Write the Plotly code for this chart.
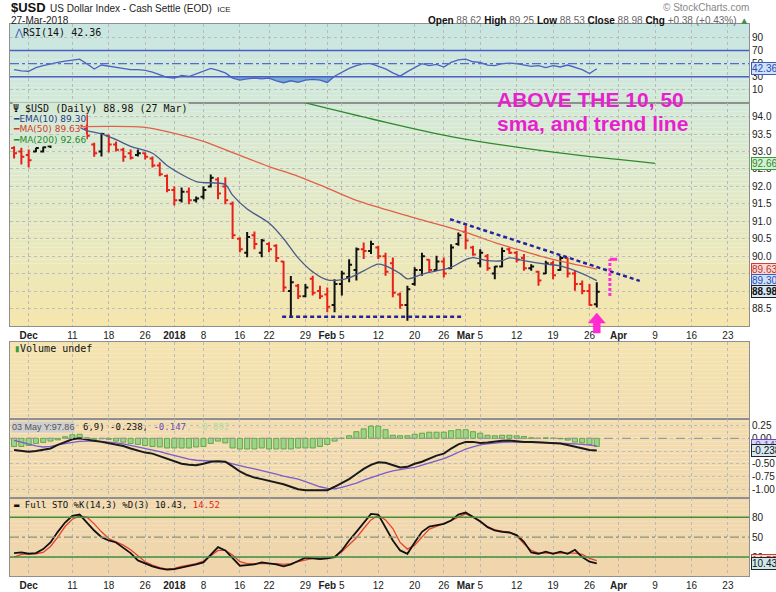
import plotly.graph_objects as go

# ---------------- data (session index: 2 = 29-Nov-2017 ... 82 = 27-Mar-2018) ----------------
bar_idx = list(range(2, 83))
opens = [93.10, 93.00, 92.90, 93.00, 93.00, 93.15, 93.45, 93.70, 93.90, 93.85,
         93.65, 93.20, 93.00, 93.45, 93.20, 93.05, 92.95, 92.90, 92.95, 92.80,
         92.60, 92.30, 91.90, 91.60, 91.85, 91.60, 91.70, 92.00, 92.20, 92.00,
         91.50, 90.50, 90.10, 90.60, 90.10, 90.35, 90.30, 89.85, 89.00, 89.15,
         88.85, 89.35, 89.00, 88.90, 88.60, 89.20, 89.40, 89.60, 90.20, 90.15,
         90.25, 90.00, 89.80, 88.90, 88.60, 89.20, 89.60, 89.90, 89.60, 89.85,
         89.65, 90.35, 90.70, 90.25, 89.80, 90.00, 89.50, 89.70, 90.20, 90.10,
         89.95, 89.65, 89.55, 89.50, 89.80, 89.60, 89.95, 89.50, 89.20, 89.00,
         88.62]
highs = [93.15, 93.11, 93.06, 93.11, 93.14, 93.50, 93.80, 93.95, 94.05, 94.00,
         94.10, 93.25, 93.54, 93.49, 93.29, 93.11, 93.06, 93.06, 92.97, 92.86,
         92.69, 92.34, 92.00, 91.97, 91.97, 91.71, 92.00, 92.34, 92.26, 92.26,
         91.57, 90.54, 90.69, 90.71, 90.49, 90.40, 90.34, 89.86, 89.43, 89.20,
         89.20, 89.44, 89.15, 89.10, 89.34, 89.58, 89.91, 90.25, 90.39, 90.44,
         90.30, 90.10, 89.96, 88.96, 89.15, 89.68, 90.10, 89.91, 90.01, 89.96,
         90.34, 90.68, 90.87, 90.30, 90.20, 90.06, 89.72, 90.25, 90.25, 90.15,
         90.06, 89.77, 89.58, 89.87, 89.87, 90.01, 89.96, 89.58, 89.30, 89.20,
         89.25]
lows = [92.80, 92.63, 92.54, 92.98, 92.97, 93.10, 93.40, 93.60, 93.75, 93.65,
        93.35, 92.85, 92.86, 92.97, 93.00, 92.71, 92.77, 92.86, 92.77, 92.54,
        92.29, 91.83, 91.45, 91.54, 91.49, 91.54, 91.63, 91.97, 91.63, 91.49,
        90.49, 90.11, 89.97, 90.20, 89.97, 90.11, 89.83, 88.97, 88.26, 88.77,
        88.82, 88.87, 88.77, 88.39, 88.39, 88.87, 89.25, 89.30, 89.92, 90.06,
        89.92, 89.44, 88.82, 88.49, 88.15, 89.15, 89.44, 89.53, 89.58, 89.39,
        89.63, 90.30, 90.20, 90.01, 89.68, 89.58, 89.34, 89.68, 90.06, 89.82,
        89.58, 89.58, 89.15, 89.49, 89.34, 89.58, 89.39, 89.01, 88.91, 88.58,
        88.53]
closes = [92.95, 92.85, 92.75, 93.10, 93.12, 93.45, 93.70, 93.90, 93.85, 93.75,
          93.45, 92.95, 93.50, 93.20, 93.05, 92.85, 92.82, 92.95, 92.85, 92.60,
          92.35, 91.90, 91.60, 91.85, 91.60, 91.65, 91.90, 92.25, 91.80, 91.60,
          90.60, 90.20, 90.55, 90.35, 90.45, 90.20, 89.95, 89.10, 89.25, 88.85,
          89.10, 88.95, 88.85, 88.55, 89.20, 89.50, 89.75, 90.20, 90.15, 90.35,
          90.00, 89.55, 88.95, 88.60, 89.05, 89.60, 90.00, 89.60, 89.85, 89.50,
          90.25, 90.60, 90.45, 90.05, 90.10, 89.65, 89.70, 90.15, 90.10, 89.90,
          89.65, 89.70, 89.30, 89.80, 89.45, 89.95, 89.50, 89.20, 89.00, 88.60,
          88.98]

tick_idx = [4, 10, 15, 20, 24, 28, 33, 37, 42, 45, 47, 52, 57, 61, 64, 66, 71, 76, 81, 85, 90, 95, 100]
tick_text = ["<b>Dec</b>", "11", "18", "26", "<b>2018</b>", "8", "16", "22", "29", "<b>Feb</b>", "5",
             "12", "20", "26", "<b>Mar</b>", "5", "12", "19", "26", "<b>Apr</b>", "9", "16", "23"]

ema10_x = [11, 12, 14, 16, 18, 21, 23, 25, 27, 28, 31, 32, 34, 37, 39, 41, 43, 45, 48, 50, 52, 53,
           55, 56, 58, 60, 62, 64, 65, 67, 69, 70, 72, 75, 77, 80, 82]
ema10_v = [93.69, 93.60, 93.51, 93.34, 93.15, 92.95, 92.60, 92.34, 92.14, 92.11, 92.05, 91.75,
           91.35, 90.95, 90.50, 89.95, 89.55, 89.32, 89.38, 89.58, 89.77, 89.72, 89.50, 89.35,
           89.48, 89.58, 89.68, 89.90, 89.96, 89.87, 89.87, 89.95, 89.87, 89.77, 89.72, 89.50, 89.30]
ma50_x = [11, 20, 23, 28, 32, 37, 41, 45, 49, 57, 64, 68, 71, 75, 80, 82]
ma50_v = [93.71, 93.69, 93.57, 93.29, 92.97, 92.57, 92.29, 91.95, 91.60, 91.10, 90.68, 90.39,
          90.20, 89.96, 89.72, 89.63]
ma200_x = [40, 51, 62, 75, 90]
ma200_v = [94.50, 93.94, 93.43, 93.01, 92.66]

rsi_v = [41, 39, 38.5, 44, 47, 50, 52, 54, 55, 57, 50, 42, 48, 46, 44, 42, 41, 41, 40, 37,
         33, 29, 28, 32, 30.5, 35, 39, 43, 40, 36, 28, 25, 27, 28, 27, 28, 24, 21, 24, 21.5,
         25, 26, 25, 21.5, 31, 37, 43, 47, 50, 50, 46, 42, 36, 31, 38, 44, 50, 47, 49, 45,
         52, 56, 57, 53, 52, 48, 47, 50, 51, 50, 48, 46, 47, 44, 47, 45, 48, 44, 41, 35,
         42.36]
macd_v = [-0.23, -0.25, -0.265, -0.25, -0.23, -0.20, -0.13, -0.07, -0.02, 0.0,
          -0.03, -0.05, -0.07, -0.10, -0.12, -0.15, -0.20, -0.24, -0.28, -0.30,
          -0.35, -0.40, -0.45, -0.50, -0.52, -0.53, -0.50, -0.46, -0.45, -0.46,
          -0.55, -0.65, -0.72, -0.77, -0.80, -0.83, -0.86, -0.90, -0.95, -1.00,
          -1.02, -1.02, -1.02, -1.02, -0.95, -0.88, -0.80, -0.70, -0.60, -0.52,
          -0.47, -0.48, -0.53, -0.57, -0.56, -0.50, -0.46, -0.40, -0.34, -0.30,
          -0.20, -0.12, -0.07, -0.07, -0.09, -0.08, -0.06, -0.05, -0.045, -0.06,
          -0.07, -0.07, -0.08, -0.08, -0.09, -0.10, -0.13, -0.16, -0.19, -0.23,
          -0.238]
signal_v = [-0.04, -0.08, -0.12, -0.15, -0.17, -0.16, -0.13, -0.10, -0.08, -0.06,
            -0.05, -0.05, -0.06, -0.07, -0.09, -0.11, -0.14, -0.17, -0.20, -0.22,
            -0.26, -0.30, -0.34, -0.38, -0.41, -0.43, -0.44, -0.45, -0.45, -0.46,
            -0.50, -0.54, -0.57, -0.60, -0.63, -0.66, -0.70, -0.74, -0.77, -0.80,
            -0.85, -0.90, -0.95, -0.98, -0.99, -0.96, -0.92, -0.88, -0.82, -0.77,
            -0.72, -0.68, -0.64, -0.61, -0.59, -0.57, -0.53, -0.49, -0.45, -0.40,
            -0.34, -0.27, -0.21, -0.17, -0.13, -0.11, -0.09, -0.08, -0.075, -0.07,
            -0.07, -0.07, -0.075, -0.08, -0.085, -0.09, -0.095, -0.11, -0.12, -0.135,
            -0.147]
hist_v = [-0.16, -0.16, -0.14, -0.10, -0.08, -0.055, -0.03, 0.03, 0.07, 0.08,
          0.01, -0.02, -0.01, -0.02, -0.055, -0.075, -0.10, -0.12, -0.14, -0.16,
          -0.17, -0.19, -0.19, -0.19, -0.19, -0.17, -0.16, -0.10, -0.055, -0.09,
          -0.19, -0.21, -0.21, -0.21, -0.19, -0.21, -0.21, -0.21, -0.21, -0.19,
          -0.19, -0.19, -0.16, -0.12, -0.055, 0.0, 0.05, 0.13, 0.185, 0.24,
          0.24, 0.17, 0.06, 0.05, 0.05, 0.08, 0.10, 0.12, 0.12, 0.12,
          0.15, 0.17, 0.17, 0.13, 0.10, 0.06, 0.05, 0.06, 0.06, 0.05,
          0.035, 0.01, 0.0, 0.01, 0.0, -0.01, -0.035, -0.075, -0.09, -0.12,
          -0.16]
stok_v = [26, 27, 25, 26, 32, 42, 58, 72, 82, 84, 72, 60, 50, 45, 42, 34, 26, 15, 10, 6,
          3, 1, 2, 4, 7, 9, 12, 24, 35, 30, 18, 7, 8, 9, 12, 11, 9, 6, 9, 14,
          19, 18, 17, 18, 20, 30, 45, 58, 72, 85, 84, 64, 45, 30, 25, 42, 58, 66, 68, 70,
          75, 84, 87, 81, 74, 65, 60, 58, 57, 53, 43, 27, 25, 28, 25, 28, 25, 31, 20, 13,
          10.43]
stod_v = [20, 24, 25, 25, 27, 36, 50, 66, 77, 82, 80, 70, 58, 48, 43, 38, 31, 22, 13, 8,
          4, 2, 3, 6, 8, 10, 14, 22, 30, 30, 23, 13, 10, 10, 10, 11, 10, 9, 10, 13,
          16, 18, 18, 19, 20, 28, 38, 49, 63, 76, 83, 76, 63, 42, 32, 38, 50, 62, 66, 70,
          75, 80, 85, 80, 73, 66, 61, 59, 57, 52, 40, 30, 26, 26, 26, 27, 27, 26, 24, 18,
          14.52]

support_x = [38.8, 63.5]
support_y = [88.26, 88.26]
resist_x = [61.85, 87.9]
resist_y = [91.06, 89.29]
mark_x = [83.8, 83.8]
mark_y = [88.86, 89.91]
arrow_tip = (82, 88.37)

# ---------------- geometry (design in 776x592 reference pixels) ----------------
W0, H0 = 776, 592
L, R, T, B = 9, 750, 24, 578
W, H = 784, 600          # page captured slightly larger, then fitted to 776x592
SX, SY = W / W0, H / H0


def fy(y):
    return (B - y) / (B - T)


def fx(x):
    return (x - L) / (R - L)


panels = {1: (24, 103), 2: (103, 327), 3: (343, 420), 4: (420, 500), 5: (500, 578)}

NARROW = "Liberation Sans Narrow, Arial Narrow, Liberation Sans, Arial, sans-serif"
MONO = "DejaVu Sans Mono, monospace"
SANS = "DejaVu Sans, Verdana, sans-serif"
XR = [1.44, 102.9]
yranges = {1: [-9.5, 110.6], 2: [88.0, 94.4], 3: [0, 1], 4: [-1.176, 0.387], 5: [-8.5, 108.5]}

fig = go.Figure()

# ---------------- price bars (black = close up vs previous close, red = down) ----------------
up = {k: [] for k in "xohlc"}
dn = {k: [] for k in "xohlc"}
for k, i in enumerate(bar_idx):
    prev = closes[k - 1] if k > 0 else opens[0]
    d = up if closes[k] >= prev else dn
    d["x"].append(i); d["o"].append(opens[k]); d["h"].append(highs[k])
    d["l"].append(lows[k]); d["c"].append(closes[k])
for d, col in ((up, "#111111"), (dn, "#e8201c")):
    fig.add_trace(go.Ohlc(x=d["x"], open=d["o"], high=d["h"], low=d["l"], close=d["c"],
                          xaxis="x2", yaxis="y2", tickwidth=0.4, showlegend=False,
                          increasing=dict(line=dict(color=col, width=2)),
                          decreasing=dict(line=dict(color=col, width=2))))

fig.add_trace(go.Scatter(x=ma200_x, y=ma200_v, xaxis="x2", yaxis="y2", mode="lines",
                         line=dict(color="#2f8a2f", width=1.3, shape="spline"), showlegend=False))
fig.add_trace(go.Scatter(x=ma50_x, y=ma50_v, xaxis="x2", yaxis="y2", mode="lines",
                         line=dict(color="#e0604a", width=1.3, shape="spline"), showlegend=False))
fig.add_trace(go.Scatter(x=ema10_x, y=ema10_v, xaxis="x2", yaxis="y2", mode="lines",
                         line=dict(color="#4a5a8c", width=1.3, shape="spline"), showlegend=False))
fig.add_trace(go.Scatter(x=support_x, y=support_y, xaxis="x2", yaxis="y2", mode="lines",
                         line=dict(color="#2424a0", width=2.5, dash="4px,3px"), showlegend=False))
fig.add_trace(go.Scatter(x=resist_x, y=resist_y, xaxis="x2", yaxis="y2", mode="lines",
                         line=dict(color="#2424a0", width=2.5, dash="4px,3px"), showlegend=False))
fig.add_trace(go.Scatter(x=mark_x, y=mark_y, xaxis="x2", yaxis="y2", mode="lines",
                         line=dict(color="#ff30d0", width=3, dash="3px,2px"), showlegend=False))
fig.add_trace(go.Scatter(x=[mark_x[1], mark_x[1] + 1.0], y=[mark_y[1], mark_y[1]], xaxis="x2",
                         yaxis="y2", mode="lines", line=dict(color="#ff30d0", width=3),
                         showlegend=False))

# ---------------- RSI ----------------
fig.add_trace(go.Scatter(x=bar_idx, y=[30] * len(bar_idx), xaxis="x", yaxis="y", mode="lines",
                         line=dict(width=0), showlegend=False))
fig.add_trace(go.Scatter(x=bar_idx, y=[min(v, 30) for v in rsi_v], xaxis="x", yaxis="y",
                         mode="lines", line=dict(width=0), fill="tonexty",
                         fillcolor="rgba(70,140,200,0.65)", showlegend=False))
fig.add_trace(go.Scatter(x=bar_idx, y=rsi_v, xaxis="x", yaxis="y", mode="lines",
                         line=dict(color="#4a62c4", width=1.3), showlegend=False))

# ---------------- volume (empty) ----------------
fig.add_trace(go.Scatter(x=[50], y=[0.5], xaxis="x3", yaxis="y3", mode="markers",
                         marker=dict(opacity=0), showlegend=False))

# ---------------- MACD ----------------
fig.add_trace(go.Bar(x=bar_idx, y=hist_v, xaxis="x4", yaxis="y4", width=0.7,
                     marker=dict(color="#9cd488", line=dict(color="#4f9a3c", width=0.8)),
                     showlegend=False))
fig.add_trace(go.Scatter(x=bar_idx, y=signal_v, xaxis="x4", yaxis="y4", mode="lines",
                         line=dict(color="#7b5cc8", width=1.3), showlegend=False))
fig.add_trace(go.Scatter(x=bar_idx, y=macd_v, xaxis="x4", yaxis="y4", mode="lines",
                         line=dict(color="#1a1a1a", width=2), showlegend=False))

# ---------------- Stochastics ----------------
fig.add_trace(go.Scatter(x=bar_idx, y=stod_v, xaxis="x5", yaxis="y5", mode="lines",
                         line=dict(color="#e8412c", width=1.3), showlegend=False))
fig.add_trace(go.Scatter(x=bar_idx, y=stok_v, xaxis="x5", yaxis="y5", mode="lines",
                         line=dict(color="#111111", width=1.8), showlegend=False))

# ---------------- axes ----------------
axfont = dict(family=NARROW, size=10, color="#222")
yticks = {
    1: ([90, 70, 50, 30, 10], ["90", "70", "50", "30", "10"]),
    2: ([88.5 + 0.5 * k for k in range(12)], ["%.1f" % (88.5 + 0.5 * k) for k in range(12)]),
    3: ([], []),
    4: ([0.25, 0.0, -0.25, -0.5, -0.75, -1.0], ["0.25", "0.00", "-0.25", "-0.50", "-0.75", "-1.00"]),
    5: ([80, 50, 20], ["80", "50", "20"]),
}
lay = {}
for n in range(1, 6):
    sx = "" if n == 1 else str(n)
    top, bot = panels[n]
    lay["xaxis" + sx] = dict(domain=[0, 1], range=XR, anchor="y" + sx, tickmode="array",
                             tickvals=tick_idx, ticktext=tick_text, tickangle=0,
                             showticklabels=(n in (2, 5)), ticks="", tickfont=axfont,
                             showgrid=True, gridcolor="#b9b9b9", griddash="dot", gridwidth=1,
                             showline=True, mirror=True, linecolor="#8f8f8f", linewidth=1,
                             zeroline=False, fixedrange=True,
                             rangeslider=dict(visible=False))
    tv, tt = yticks[n]
    lay["yaxis" + sx] = dict(domain=[fy(bot), fy(top)], range=yranges[n], anchor="x" + sx,
                             side="right", tickmode="array", tickvals=tv, ticktext=tt,
                             ticks="", tickfont=axfont, showgrid=(n != 3),
                             gridcolor="#bdbdbd", griddash="dot", gridwidth=1,
                             showline=True, mirror=True, linecolor="#8f8f8f", linewidth=1,
                             zeroline=False, fixedrange=True, showticklabels=(n != 3))

# ---------------- background gradient ----------------
stops = [(24, (201, 230, 226)), (103, (211, 233, 216)), (215, (228, 233, 196)),
         (327, (246, 230, 173)), (343, (244, 227, 175)), (420, (242, 220, 174)),
         (578, (240, 213, 173))]


def col_at(y):
    for (y0, c0), (y1, c1) in zip(stops[:-1], stops[1:]):
        if y0 <= y <= y1:
            t = (y - y0) / (y1 - y0) if y1 > y0 else 0
            return "rgb(%d,%d,%d)" % tuple(round(a + (b - a) * t) for a, b in zip(c0, c1))
    return "rgb(%d,%d,%d)" % stops[-1][1]


shapes = []
for (y_a, y_b) in ((24, 327), (343, 578)):
    y = y_a
    while y < y_b:
        y2 = min(y + 4, y_b)
        shapes.append(dict(type="rect", xref="paper", yref="paper", x0=0, x1=1,
                           y0=fy(y2), y1=fy(y), fillcolor=col_at((y + y2) / 2),
                           line=dict(width=0), layer="below"))
        y = y2

# reference lines
for yv, dash, col, ax in ((70, "solid", "#4b5ec4", "y"), (30, "solid", "#4b5ec4", "y"),
                          (50, "dashdot", "#5b6cc8", "y"),
                          (80, "solid", "#3f8f3f", "y5"), (20, "solid", "#3f8f3f", "y5"),
                          (50, "dashdot", "#8a9a7a", "y5"), (0, "dash", "#9a9a9a", "y4")):
    shapes.append(dict(type="line", xref="x domain" if ax == "y" else ax.replace("y", "x") + " domain",
                       yref=ax, x0=0, x1=1, y0=yv, y1=yv,
                       line=dict(color=col, width=1.5 if dash == "solid" else 1.2, dash=dash)))

# pink up arrow under the last bar (paper-anchored so it may run below the panel)
pd0, pd1 = fy(panels[2][1]), fy(panels[2][0])
ax_paper = (arrow_tip[0] - XR[0]) / (XR[1] - XR[0])
ay_paper = pd0 + (arrow_tip[1] - yranges[2][0]) / (yranges[2][1] - yranges[2][0]) * (pd1 - pd0)
shapes.append(dict(type="path", xref="paper", yref="paper", xsizemode="pixel", ysizemode="pixel",
                   xanchor=ax_paper, yanchor=ay_paper,
                   path="M 0,0 L 8.5,-10 L 3.5,-10 L 3.5,-20 L -3.5,-20 L -3.5,-10 L -8.5,-10 Z",
                   fillcolor="#ff2ad4", line=dict(color="#ff2ad4", width=0.5)))

# ---------------- annotations ----------------
ann = []


def text(xpx, ypx, s, size=10, color="#111", family=MONO, anchor="left", bg=None):
    d = dict(xref="paper", yref="paper", x=fx(xpx), y=fy(ypx), text=s, showarrow=False,
             xanchor=anchor, yanchor="middle", font=dict(size=size, color=color, family=family))
    if bg:
        d["bgcolor"] = bg
        d["borderpad"] = 0
    ann.append(d)


text(8, 7, "<b>$USD</b>", size=13, family=NARROW, color="#111")
text(47, 8, "US Dollar Index - Cash Settle (EOD)  <span style='font-size:8px'>ICE</span>",
     size=10, family=NARROW, color="#222")
text(8, 20, "27-Mar-2018", size=10, family=NARROW, color="#222")
text(752, 7, "© StockCharts.com", size=10, family=NARROW, color="#888", anchor="right")
text(752, 20, "<b>Open</b> <span style='color:#666'>88.62</span> <b>High</b> "
     "<span style='color:#666'>89.25</span> <b>Low</b> <span style='color:#666'>88.53</span> "
     "<b>Close</b> <span style='color:#666'>88.98</span> <b>Chg</b> "
     "<span style='color:#666'>+0.38 (+0.43%)</span> <span style='color:#4a8a4a'>▲</span>",
     size=10, family=NARROW, color="#111", anchor="right")

text(11, 33, "<span style='color:#3a56c0'>⋀</span>RSI(14) 42.36", size=10)
bgp = col_at(120)
text(11, 109, "Ψ $USD (Daily) 88.98 (27 Mar)", size=10, bg=bgp)
text(11, 119.5, "<span style='color:#1f3a8a'>━EMA(10) 89.30</span>", size=9, family=SANS, bg=bgp)
text(11, 129.5, "<span style='color:#d33b2b'>━MA(50) 89.63</span>", size=9, family=SANS, bg=bgp)
text(11, 140, "<span style='color:#2a8a2a'>━MA(200) 92.66</span>", size=9, family=SANS, bg=bgp)
text(11, 350, "<span style='color:#3a9a3a'>▮</span>Volume undef", size=10)
text(10, 428, "03 May Y:97.86", size=9, family=NARROW, color="#555", bg="#cfcfcf")
text(80, 428, "6,9) -0.238, <span style='color:#6a4cc0'>-0.147</span>"
     "<span style='color:#b4dca4'>, -0.092</span>", size=9)
text(11, 507, "▬ Full STO %K(14,3) %D(3) 10.43, <span style='color:#e8201c'>14.52</span>", size=9)

text(495, 100, "<b>ABOVE THE 10, 50</b>", size=21, family="Liberation Sans, Arial", color="#e81fcf")
text(495, 124, "<b>sma, and trend line</b>", size=21, family="Liberation Sans, Arial", color="#e81fcf")


def tag(yref, yv, s, fg, bg, border):
    ann.append(dict(xref="paper", yref=yref, x=1.0, y=yv, text=s, showarrow=False,
                    xanchor="left", yanchor="middle", xshift=2,
                    font=dict(size=10, color=fg, family=NARROW), bgcolor=bg,
                    bordercolor=border, borderwidth=1, borderpad=0))


tag("y", rsi_v[-1], "42.36", "#2a4ab8", "#cfe2f6", "#3a5ac8")
tag("y2", ma200_v[-1], "92.66", "#2a8a2a", "#d6f0d6", "#3a9a3a")
tag("y2", ma50_v[-1], "89.63", "#c83020", "#f6dada", "#d04030")
tag("y2", ema10_v[-1], "89.30", "#2a4ab8", "#cfe2f6", "#3a5ac8")
tag("y2", closes[-1], "<b>88.98</b>", "#111", "#d6e8f4", "#222")
tag("y4", signal_v[-1], "-0.147", "#6a4cc0", "#dcd6f4", "#6a4cc0")
tag("y4", macd_v[-1], "-0.238", "#111", "#d6e8f4", "#222")
tag("y5", stod_v[-1], "14.52", "#c83020", "#f6dada", "#d04030")
tag("y5", stok_v[-1], "10.43", "#111", "#cfe8ec", "#222")

fig.update_layout(width=W, height=H,
                  margin=dict(l=L * SX, r=(W0 - R) * SX, t=T * SY, b=(H0 - B) * SY, pad=0),
                  paper_bgcolor="white", plot_bgcolor="rgba(0,0,0,0)", showlegend=False,
                  hovermode=False, bargap=0, shapes=shapes, annotations=ann, **lay)

fig.write_html("out.html", config={"displayModeBar": False, "staticPlot": True},
               post_script="document.documentElement.style.margin='0px';"
                           "document.body.style.margin='0px';"
                           "document.body.style.overflow='hidden';")
